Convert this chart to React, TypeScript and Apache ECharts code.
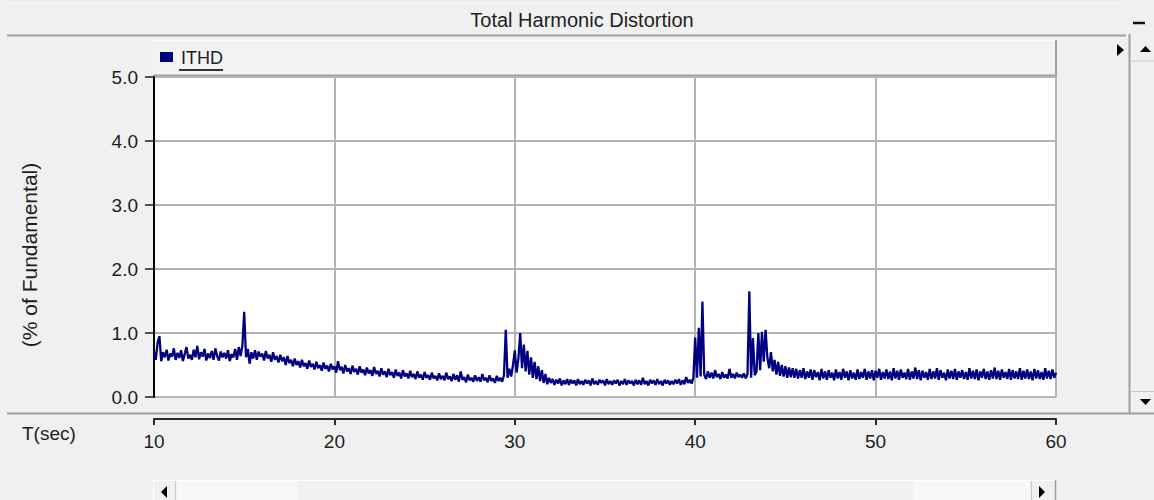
import React, { useEffect, useRef } from "react";
import * as echarts from "echarts";

// Chart texts
const CHART_TITLE = "Total Harmonic Distortion";
const SERIES_NAME = "ITHD";
const Y_AXIS_NAME = "(% of Fundamental)";
const X_AXIS_NAME = "T(sec)";

// Axis ranges / ticks
const X_MIN = 10;
const X_MAX = 60;
const X_INTERVAL = 10;
const Y_MIN = 0;
const Y_MAX = 5;
const Y_INTERVAL = 1;

// Sampling of the ITHD trace: one value every 0.1 s starting at 10 s
const TIME_START = 10;
const TIME_STEP = 0.1;

// ITHD values (% of fundamental), one row per second
const ITHD_VALUES: number[] = [
  // 10 s
  0.72, 0.58, 0.85, 0.95, 0.56, 0.70, 0.62, 0.74, 0.57, 0.68,
  // 11 s
  0.63, 0.76, 0.58, 0.69, 0.61, 0.73, 0.56, 0.67, 0.78, 0.60,
  // 12 s
  0.66, 0.58, 0.74, 0.62, 0.80, 0.59, 0.70, 0.63, 0.75, 0.57,
  // 13 s
  0.68, 0.61, 0.72, 0.58, 0.76, 0.64, 0.57, 0.71, 0.62, 0.69,
  // 14 s
  0.60, 0.73, 0.56, 0.67, 0.62, 0.75, 0.58, 0.78, 0.64, 0.80,
  // 15 s
  1.33, 0.62, 0.75, 0.52, 0.70, 0.60, 0.73, 0.58, 0.71, 0.63,
  // 16 s
  0.68, 0.57, 0.72, 0.60, 0.66, 0.55, 0.70, 0.58, 0.64, 0.54,
  // 17 s
  0.66, 0.56, 0.62, 0.50, 0.64, 0.53, 0.58, 0.48, 0.60, 0.50,
  // 18 s
  0.56, 0.46, 0.58, 0.48, 0.53, 0.44, 0.57, 0.47, 0.52, 0.43,
  // 19 s
  0.55, 0.45, 0.50, 0.41, 0.54, 0.44, 0.49, 0.40, 0.52, 0.43,
  // 20 s
  0.48, 0.38, 0.56, 0.42, 0.47, 0.37, 0.50, 0.40, 0.45, 0.36,
  // 21 s
  0.49, 0.39, 0.44, 0.35, 0.48, 0.38, 0.43, 0.34, 0.46, 0.37,
  // 22 s
  0.42, 0.33, 0.47, 0.36, 0.41, 0.32, 0.45, 0.35, 0.40, 0.31,
  // 23 s
  0.44, 0.34, 0.39, 0.30, 0.43, 0.33, 0.38, 0.29, 0.42, 0.32,
  // 24 s
  0.37, 0.29, 0.41, 0.31, 0.36, 0.28, 0.40, 0.30, 0.35, 0.27,
  // 25 s
  0.39, 0.30, 0.34, 0.27, 0.38, 0.29, 0.33, 0.26, 0.37, 0.28,
  // 26 s
  0.33, 0.26, 0.38, 0.28, 0.32, 0.25, 0.36, 0.27, 0.34, 0.24,
  // 27 s
  0.40, 0.27, 0.31, 0.23, 0.35, 0.26, 0.30, 0.24, 0.34, 0.25,
  // 28 s
  0.31, 0.24, 0.36, 0.26, 0.30, 0.23, 0.34, 0.25, 0.29, 0.22,
  // 29 s
  0.33, 0.25, 0.30, 0.24, 0.34, 1.05, 0.30, 0.44, 0.32, 0.50,
  // 30 s
  0.73, 0.38, 0.60, 1.00, 0.45, 0.82, 0.40, 0.72, 0.35, 0.62,
  // 31 s
  0.30, 0.55, 0.28, 0.48, 0.25, 0.42, 0.22, 0.36, 0.20, 0.30,
  // 32 s
  0.22, 0.28, 0.19, 0.27, 0.21, 0.29, 0.18, 0.26, 0.20, 0.28,
  // 33 s
  0.19, 0.27, 0.21, 0.26, 0.18, 0.28, 0.20, 0.25, 0.19, 0.27,
  // 34 s
  0.21, 0.26, 0.18, 0.29, 0.20, 0.25, 0.19, 0.27, 0.22, 0.26,
  // 35 s
  0.18, 0.28, 0.20, 0.25, 0.19, 0.26, 0.21, 0.27, 0.18, 0.25,
  // 36 s
  0.20, 0.28, 0.19, 0.26, 0.21, 0.25, 0.18, 0.27, 0.20, 0.26,
  // 37 s
  0.19, 0.30, 0.20, 0.25, 0.18, 0.27, 0.21, 0.26, 0.19, 0.28,
  // 38 s
  0.20, 0.25, 0.18, 0.27, 0.21, 0.26, 0.19, 0.25, 0.20, 0.27,
  // 39 s
  0.21, 0.28, 0.19, 0.26, 0.20, 0.31, 0.22, 0.27, 0.21, 0.30,
  // 40 s
  0.93, 0.30, 1.08, 0.32, 1.49, 0.35, 0.28, 0.40, 0.30, 0.38,
  // 41 s
  0.29, 0.42, 0.31, 0.36, 0.28, 0.39, 0.30, 0.35, 0.29, 0.44,
  // 42 s
  0.30, 0.36, 0.29, 0.38, 0.31, 0.35, 0.30, 0.37, 0.29, 0.36,
  // 43 s
  1.65, 0.30, 0.92, 0.34, 0.40, 1.00, 0.42, 1.02, 0.55, 1.05,
  // 44 s
  0.62, 0.45, 0.70, 0.40, 0.58, 0.35, 0.55, 0.33, 0.50, 0.32,
  // 45 s
  0.48, 0.30, 0.46, 0.31, 0.45, 0.30, 0.44, 0.29, 0.42, 0.30,
  // 46 s
  0.45, 0.28, 0.40, 0.30, 0.43, 0.27, 0.42, 0.31, 0.39, 0.26,
  // 47 s
  0.44, 0.29, 0.40, 0.27, 0.42, 0.30, 0.38, 0.26, 0.43, 0.29,
  // 48 s
  0.39, 0.27, 0.44, 0.30, 0.40, 0.26, 0.42, 0.29, 0.38, 0.27,
  // 49 s
  0.43, 0.28, 0.39, 0.30, 0.44, 0.27, 0.40, 0.29, 0.42, 0.26,
  // 50 s
  0.41, 0.30, 0.44, 0.27, 0.39, 0.29, 0.43, 0.28, 0.40, 0.26,
  // 51 s
  0.45, 0.29, 0.41, 0.27, 0.43, 0.30, 0.38, 0.28, 0.44, 0.27,
  // 52 s
  0.40, 0.29, 0.46, 0.28, 0.42, 0.26, 0.41, 0.30, 0.39, 0.27,
  // 53 s
  0.44, 0.28, 0.40, 0.29, 0.45, 0.27, 0.42, 0.30, 0.38, 0.26,
  // 54 s
  0.43, 0.29, 0.41, 0.28, 0.44, 0.27, 0.40, 0.30, 0.42, 0.28,
  // 55 s
  0.39, 0.27, 0.45, 0.29, 0.41, 0.28, 0.43, 0.26, 0.40, 0.30,
  // 56 s
  0.44, 0.28, 0.40, 0.27, 0.42, 0.29, 0.46, 0.28, 0.41, 0.27,
  // 57 s
  0.43, 0.30, 0.39, 0.28, 0.44, 0.27, 0.42, 0.29, 0.40, 0.28,
  // 58 s
  0.45, 0.27, 0.41, 0.29, 0.43, 0.28, 0.40, 0.26, 0.44, 0.29,
  // 59 s
  0.42, 0.28, 0.39, 0.27, 0.45, 0.29, 0.41, 0.28, 0.43, 0.30,
  // 60 s
  0.38,
];

const FONT = "'Liberation Sans', Arial, sans-serif";
const TEXT_COLOR = "#1e1e1e";
const LINE_COLOR = "#000080";
const GRID_COLOR = "#b4b4b4";
const FRAME_GRAY = "#a0a0a0";

export default function App() {
  const ref = useRef<HTMLDivElement>(null);

  useEffect(() => {
    if (!ref.current) return;
    const chart = echarts.init(ref.current, undefined, { renderer: "svg" });

    const seriesData = ITHD_VALUES.map((v, i) => [
      Math.round((TIME_START + i * TIME_STEP) * 10) / 10,
      v,
    ]);

    const option: any = {
      animation: false,
      backgroundColor: "#f0f0f0",
      textStyle: { fontFamily: FONT },
      grid: [
        {
          left: 154,
          top: 77,
          width: 902,
          height: 320,
          show: true,
          backgroundColor: "#ffffff",
          borderWidth: 0,
        },
        {
          left: 154,
          top: 418,
          width: 902,
          height: 1,
          show: false,
        },
      ],
      xAxis: [
        {
          type: "value",
          gridIndex: 0,
          min: X_MIN,
          max: X_MAX,
          interval: X_INTERVAL,
          axisLine: { show: false },
          axisTick: { show: false },
          axisLabel: { show: false },
          splitLine: { show: true, lineStyle: { color: GRID_COLOR, width: 2 } },
        },
        {
          type: "value",
          gridIndex: 1,
          min: X_MIN,
          max: X_MAX,
          interval: X_INTERVAL,
          position: "bottom",
          axisLine: { show: true, onZero: false, lineStyle: { color: "#2a2a2a", width: 2 } },
          axisTick: { show: true, length: 6, lineStyle: { color: "#2a2a2a", width: 2 } },
          axisLabel: {
            show: true,
            fontSize: 19,
            color: TEXT_COLOR,
            fontFamily: FONT,
            margin: 13,
          },
          splitLine: { show: false },
        },
      ],
      yAxis: [
        {
          type: "value",
          gridIndex: 0,
          min: Y_MIN,
          max: Y_MAX,
          interval: Y_INTERVAL,
          axisLine: { show: true, lineStyle: { color: "#000000", width: 2 } },
          axisTick: { show: true, length: 9, lineStyle: { color: "#1a1a1a", width: 1.5 } },
          axisLabel: {
            show: true,
            fontSize: 19,
            color: TEXT_COLOR,
            fontFamily: FONT,
            margin: 16,
            formatter: (v: number) => v.toFixed(1),
          },
          splitLine: { show: true, lineStyle: { color: GRID_COLOR, width: 2 } },
        },
        {
          type: "value",
          gridIndex: 1,
          show: false,
          min: 0,
          max: 1,
        },
      ],
      series: [
        {
          name: SERIES_NAME,
          type: "line",
          xAxisIndex: 0,
          yAxisIndex: 0,
          data: seriesData,
          showSymbol: false,
          symbol: "none",
          lineStyle: { color: LINE_COLOR, width: 2.3 },
          itemStyle: { color: LINE_COLOR },
          z: 5,
        },
      ],
      graphic: [
        // title bar separator
        { type: "line", shape: { x1: 7, y1: 35.5, x2: 1126, y2: 35.5 }, style: { stroke: FRAME_GRAY, lineWidth: 2 } },
        { type: "line", shape: { x1: 7, y1: 3, x2: 1126, y2: 3 }, style: { stroke: "#fafafa", lineWidth: 1 } },
        {
          type: "text",
          x: 582,
          y: 20,
          style: {
            text: CHART_TITLE,
            fontSize: 20,
            fontFamily: FONT,
            fill: TEXT_COLOR,
            align: "center",
            verticalAlign: "middle",
          },
        },
        // minimize button
        { type: "line", shape: { x1: 1133, y1: 23, x2: 1145, y2: 23 }, style: { stroke: "#111", lineWidth: 2.5 } },
        // right scrollbar
        { type: "line", shape: { x1: 1129.5, y1: 34, x2: 1129.5, y2: 413 }, style: { stroke: FRAME_GRAY, lineWidth: 2 } },
        { type: "line", shape: { x1: 1130, y1: 61, x2: 1154, y2: 61 }, style: { stroke: "#c8c8c8", lineWidth: 1 } },
        { type: "line", shape: { x1: 1130, y1: 391.5, x2: 1154, y2: 391.5 }, style: { stroke: "#c8c8c8", lineWidth: 1 } },
        { type: "polygon", shape: { points: [[1140, 52], [1151, 52], [1145.5, 46]] }, style: { fill: "#000" } },
        { type: "polygon", shape: { points: [[1140, 399], [1151, 399], [1145.5, 405]] }, style: { fill: "#000" } },
        { type: "polygon", shape: { points: [[1117, 44], [1124, 50], [1117, 56]] }, style: { fill: "#000" } },
        // legend box
        { type: "rect", shape: { x: 153, y: 40, width: 903, height: 35 }, style: { fill: "#f2f2f2" } },
        { type: "line", shape: { x1: 153, y1: 40.5, x2: 1056, y2: 40.5 }, style: { stroke: "#fbfbfb", lineWidth: 1 } },
        { type: "line", shape: { x1: 153, y1: 75.5, x2: 1057, y2: 75.5 }, style: { stroke: FRAME_GRAY, lineWidth: 2 } },
        { type: "line", shape: { x1: 1056, y1: 40, x2: 1056, y2: 77 }, style: { stroke: FRAME_GRAY, lineWidth: 2 } },
        { type: "rect", shape: { x: 160, y: 52, width: 13, height: 10 }, style: { fill: LINE_COLOR } },
        {
          type: "text",
          x: 181,
          y: 58,
          style: {
            text: SERIES_NAME,
            fontSize: 18,
            fontFamily: FONT,
            fill: TEXT_COLOR,
            align: "left",
            verticalAlign: "middle",
          },
        },
        { type: "line", shape: { x1: 179, y1: 70, x2: 223, y2: 70 }, style: { stroke: "#333", lineWidth: 2 } },
        // y axis name
        {
          type: "text",
          x: 29,
          y: 255,
          rotation: Math.PI / 2,
          style: {
            text: Y_AXIS_NAME,
            fontSize: 21,
            fontFamily: FONT,
            fill: TEXT_COLOR,
            align: "center",
            verticalAlign: "middle",
          },
        },
        // bottom separator
        { type: "line", shape: { x1: 7, y1: 413.5, x2: 1154, y2: 413.5 }, style: { stroke: FRAME_GRAY, lineWidth: 2 } },
        {
          type: "text",
          x: 22,
          y: 433,
          style: {
            text: X_AXIS_NAME,
            fontSize: 19,
            fontFamily: FONT,
            fill: TEXT_COLOR,
            align: "left",
            verticalAlign: "middle",
          },
        },
        // bottom scrollbar
        { type: "rect", shape: { x: 153, y: 480, width: 902, height: 20 }, style: { fill: "#f0f0f0" } },
        { type: "line", shape: { x1: 153, y1: 480.5, x2: 1055, y2: 480.5 }, style: { stroke: "#ffffff", lineWidth: 1 } },
        { type: "line", shape: { x1: 153.5, y1: 480, x2: 153.5, y2: 500 }, style: { stroke: "#ffffff", lineWidth: 1 } },
        { type: "rect", shape: { x: 177, y: 481, width: 121, height: 19 }, style: { fill: "#f8f8f8" } },
        { type: "rect", shape: { x: 913, y: 481, width: 117, height: 19 }, style: { fill: "#f8f8f8" } },
        { type: "line", shape: { x1: 175.5, y1: 481, x2: 175.5, y2: 500 }, style: { stroke: "#c8c8c8", lineWidth: 1 } },
        { type: "line", shape: { x1: 1031.5, y1: 481, x2: 1031.5, y2: 500 }, style: { stroke: "#c8c8c8", lineWidth: 1 } },
        { type: "line", shape: { x1: 1055.5, y1: 480, x2: 1055.5, y2: 500 }, style: { stroke: FRAME_GRAY, lineWidth: 1.5 } },
        { type: "polygon", shape: { points: [[167, 486], [167, 498], [161, 492]] }, style: { fill: "#000" } },
        { type: "polygon", shape: { points: [[1039, 486], [1039, 498], [1045, 492]] }, style: { fill: "#000" } },
      ],
    };

    chart.setOption(option);
    return () => {
      chart.dispose();
    };
  }, []);

  return (
    <div
      ref={ref}
      style={{ position: "absolute", left: 0, top: 0, width: 1154, height: 500 }}
    />
  );
}
